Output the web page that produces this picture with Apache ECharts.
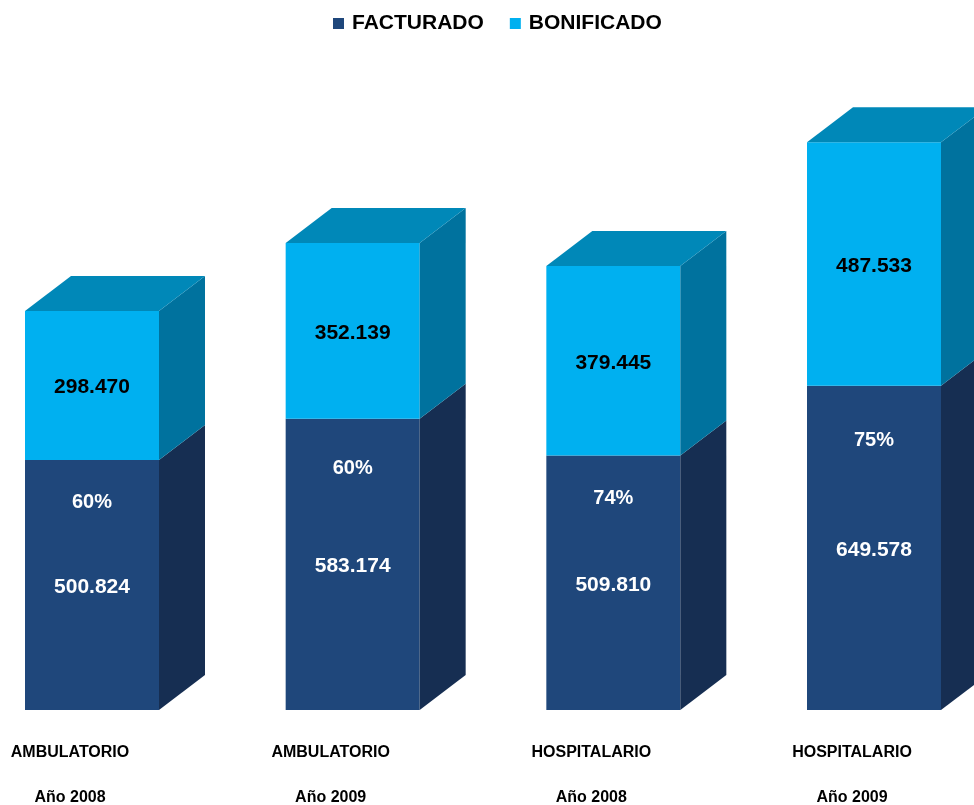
<!DOCTYPE html>
<html>
<head>
<meta charset="utf-8">
<script src="https://cdn.jsdelivr.net/npm/echarts@6/dist/echarts.min.js"></script>
<style>
  html, body { margin: 0; padding: 0; background: #fff; }
  #chart { width: 974px; height: 805px; }
</style>
</head>
<body>
<div id="chart"></div>
<script>
// datos del gráfico
var categorias = ['AMBULATORIO\nAño 2008', 'AMBULATORIO\nAño 2009', 'HOSPITALARIO\nAño 2008', 'HOSPITALARIO\nAño 2009'];
var facturado = [500824, 583174, 509810, 649578];
var bonificado = [298470, 352139, 379445, 487533];
var porcentaje = ['60%', '60%', '74%', '75%'];

// colores de las caras
var colFact = { front: '#1f477b', side: '#162e52', top: null };  // la cara superior queda tapada
var colBoni = { front: '#00b0f0', side: '#00729e', top: '#0088b8' };

var DX = 46, DY = 35;      // profundidad 3D
var HALF = 67;             // media anchura de la cara frontal
var SHIFT = 22;            // desplazamiento de la barra respecto a la etiqueta

function fmt(v) {
  return String(v).replace(/\B(?=(\d{3})+(?!\d))/g, '.');
}

function cubo(cols, textos) {
  return function (params, api) {
    var i = api.value(0);
    var p0 = api.coord([i, api.value(1)]);
    var p1 = api.coord([i, api.value(2)]);
    var x0 = p0[0] + SHIFT - HALF, x1 = p0[0] + SHIFT + HALF;
    var yb = p0[1], yt = p1[1];
    var children = [
      { type: 'rect', shape: { x: x0, y: yt, width: x1 - x0, height: yb - yt },
        style: { fill: cols.front } },
      { type: 'polygon', shape: { points: [[x1, yb], [x1 + DX, yb - DY], [x1 + DX, yt - DY], [x1, yt]] },
        style: { fill: cols.side } }
    ];
    if (cols.top) {
      children.push({ type: 'polygon', shape: { points: [[x0, yt], [x0 + DX, yt - DY], [x1 + DX, yt - DY], [x1, yt]] },
        style: { fill: cols.top } });
    }
    textos(params.dataIndex, x0, x1, yb, yt).forEach(function (t) { children.push(t); });
    return { type: 'group', children: children };
  };
}

function texto(str, x, y, color, size) {
  return { type: 'text', style: { text: str, x: x, y: y, fill: color,
    fontSize: size, fontWeight: 'bold', fontFamily: 'Liberation Sans, Arial, sans-serif',
    align: 'center', verticalAlign: 'middle' } };
}

var dataFact = facturado.map(function (v, i) { return [i, 0, v]; });
var dataBoni = bonificado.map(function (v, i) { return [i, facturado[i], facturado[i] + v]; });

var chart = echarts.init(document.getElementById('chart'));
chart.setOption({
  animation: false,
  legend: {
    left: 328, top: 8,
    icon: 'rect', itemWidth: 11, itemHeight: 11, itemGap: 26,
    textStyle: { fontSize: 21, fontWeight: 'bold', color: '#000',
      fontFamily: 'Liberation Sans, Arial, sans-serif', padding: [0, 0, 0, 3] },
    data: ['FACTURADO', 'BONIFICADO']
  },
  grid: { left: 70, width: 782, top: 11, height: 699, containLabel: false, outerBoundsMode: 'none' },
  xAxis: {
    type: 'category', data: categorias, boundaryGap: false,
    axisLine: { show: false }, axisTick: { show: false },
    axisLabel: { interval: 0, margin: 20, lineHeight: 45, fontSize: 16, fontWeight: 'bold',
      color: '#000', fontFamily: 'Liberation Sans, Arial, sans-serif' }
  },
  yAxis: { type: 'value', min: 0, max: 1400000, show: false, splitLine: { show: false } },
  series: [
    {
      name: 'FACTURADO', type: 'custom', clip: false,
      itemStyle: { color: colFact.front },
      encode: { x: 0, y: [1, 2] },
      renderItem: cubo(colFact, function (i, x0, x1, yb, yt) {
        var cx = (x0 + x1) / 2;
        return [
          texto(porcentaje[i], cx, yb - (yb - yt) * 0.83, '#fff', 20),
          texto(fmt(facturado[i]), cx, (yb + yt) / 2 + 2, '#fff', 21)
        ];
      }),
      data: dataFact
    },
    {
      name: 'BONIFICADO', type: 'custom', clip: false,
      itemStyle: { color: colBoni.front },
      encode: { x: 0, y: [1, 2] },
      renderItem: cubo(colBoni, function (i, x0, x1, yb, yt) {
        return [texto(fmt(bonificado[i]), (x0 + x1) / 2, (yb + yt) / 2 + 2, '#000', 21)];
      }),
      data: dataBoni
    }
  ]
});
</script>
</body>
</html>
